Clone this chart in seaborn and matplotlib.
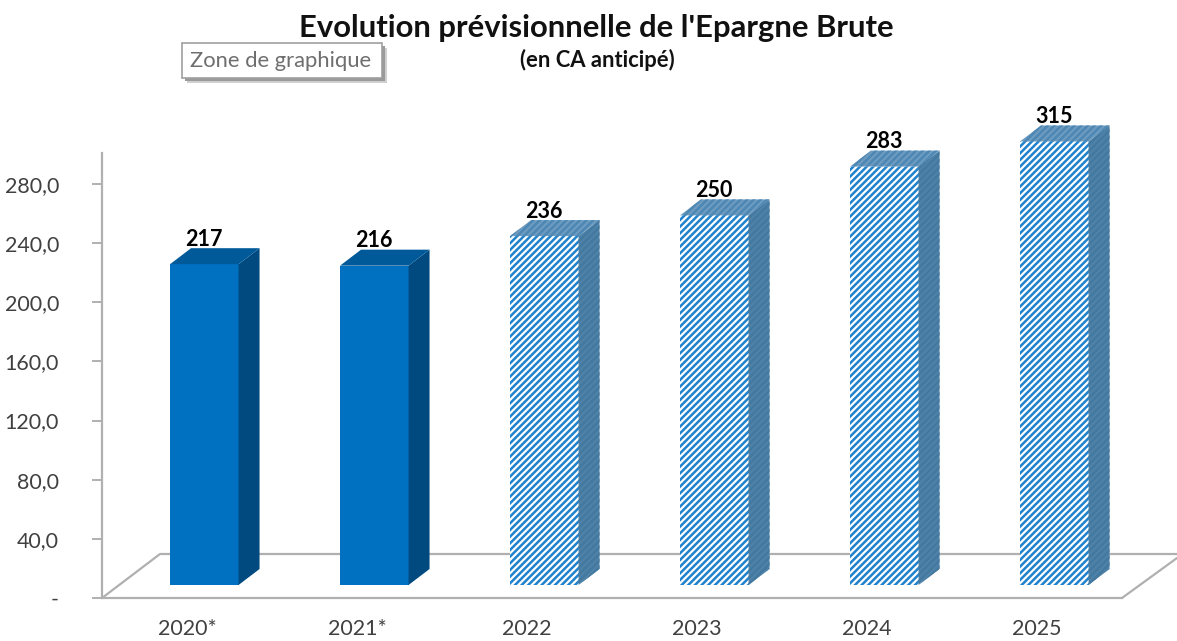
import numpy as np
import pandas as pd
import matplotlib
matplotlib.use("Agg")
import matplotlib.pyplot as plt
from matplotlib.patches import Rectangle, Polygon
import seaborn as sns

categories = ["2020*", "2021*", "2022", "2023", "2024", "2025"]
values = [217, 216, 236, 250, 283, 315]
forecast = [False, False, True, True, True, True]
yticks = [0, 40, 80, 120, 160, 200, 240, 280]
yticklabels = ["-", "40,0", "80,0", "120,0", "160,0", "200,0", "240,0", "280,0"]
title = "Evolution prévisionnelle de l'Epargne Brute"
subtitle = "(en CA anticipé)"
tooltip = "Zone de graphique"
axis_cap = 300

W, H = 1177, 641
sns.set_theme(style="white")
plt.rcParams["font.family"] = ["Lato", "DejaVu Sans"]
plt.rcParams["hatch.linewidth"] = 1.8

fig = plt.figure(figsize=(W / 100, H / 100), dpi=100, facecolor="white")
ax = fig.add_axes([102 / W, (H - 598) / H, 1020 / W, 445 / H])
ax.set_facecolor("none")

px_x = 6 / 1020          # data x per pixel
px_y = 301 / 445         # data y per pixel
drawn = np.minimum(values, axis_cap)
df = pd.DataFrame({"cat": categories, "val": drawn})
base = 13 * px_y
sns.barplot(data=df, x="cat", y="val", order=categories, width=0.403, color="#0070c0",
            saturation=1, bottom=base, ax=ax, zorder=3, linewidth=0)
ax.set_xlim(-0.5, 5.5)
ax.set_ylim(0, 301)
ax.set_xlabel("")
ax.set_ylabel("")

GRAY = "#b0b0b0"
# floor
fl = dict(color=GRAY, lw=1.6, clip_on=False, zorder=1, solid_capstyle="round")
ax.plot([-0.5, -0.5 + 58 * px_x, -0.5 + 1075 * px_x], [0, 44 * px_y, 44 * px_y], **fl)
ax.plot([5.5, 5.5 + 55 * px_x], [0, 40 * px_y], **fl)

dx, dy = 21 * px_x, 16 * px_y
shift = 17.3 * px_x
bars = list(ax.patches)
for i, (b, v, hatched) in enumerate(zip(bars, values, forecast)):
    b.set_x(b.get_x() + shift)
    x0, x1 = b.get_x(), b.get_x() + b.get_width()
    y0, y1 = b.get_y(), b.get_y() + b.get_height()
    b.set_clip_on(False)
    if hatched:
        b.set_facecolor("white")
        b.set_edgecolor("#1f82cc")
        b.set_hatch("/////")
        side = dict(facecolor="#4f82a8", edgecolor="#44799f", hatch="/////", linewidth=0)
        top = dict(facecolor="#6d9cc0", edgecolor="#4d87b4", hatch="/////", linewidth=0)
    else:
        side = dict(facecolor="#004a80", linewidth=0)
        top = dict(facecolor="#005a9a", linewidth=0)
    ax.add_patch(Polygon([(x1, y0), (x1 + dx, y0 + dy), (x1 + dx, y1 + dy), (x1, y1)],
                         clip_on=False, zorder=3, **side))
    ax.add_patch(Polygon([(x0, y1), (x0 + dx, y1 + dy), (x1 + dx, y1 + dy), (x1, y1)],
                         clip_on=False, zorder=3, **top))
    ax.text((x0 + x1) / 2 - 0.5 * px_x, y1 + 25 * px_y, str(v), ha="center", va="center",
            fontsize=15.5, fontweight="bold", color="black", zorder=5, clip_on=False)

# axes
for s in ["top", "right"]:
    ax.spines[s].set_visible(False)
for s in ["left", "bottom"]:
    ax.spines[s].set_color(GRAY)
    ax.spines[s].set_linewidth(1.6)
ax.set_yticks(yticks)
ax.set_yticklabels(yticklabels)
ax.set_xticks(range(len(categories)))
ax.set_xticklabels(categories)
ax.set_xticks(np.arange(-0.5, 6), minor=True)
ax.tick_params(axis="x", which="major", length=0, pad=15, labelsize=15.4, labelcolor="#404040")
ax.tick_params(axis="x", which="minor", length=5, width=1.4, color=GRAY)
ax.tick_params(axis="y", which="major", left=True, length=7, width=1.4, color=GRAY, pad=24,
               labelsize=15.4, labelcolor="#404040")

# titles
fig.text(596 / W, 1 - 28 / H, title, ha="center", va="center", fontsize=22.3, fontweight="bold", color="#111111")
fig.text(597 / W, 1 - 60 / H, subtitle, ha="center", va="center", fontsize=15.8, fontweight="bold", color="#111111")

# tooltip box
for off, col in [(5, "#cfcfcf"), (3, "#9a9a9a")]:
    fig.add_artist(Rectangle(((182 + off) / W, 1 - (78 + off) / H), 200 / W, 35 / H,
                             transform=fig.transFigure, facecolor=col, edgecolor="none"))
fig.add_artist(Rectangle((182 / W, 1 - 78 / H), 200 / W, 35 / H, transform=fig.transFigure,
                         facecolor="white", edgecolor="#a0a0a0", linewidth=1.2))
fig.text(281 / W, 1 - 61 / H, tooltip, ha="center", va="center", fontsize=15.8, color="#6e6e6e")

fig.savefig("out.png", dpi=100, facecolor="white")
